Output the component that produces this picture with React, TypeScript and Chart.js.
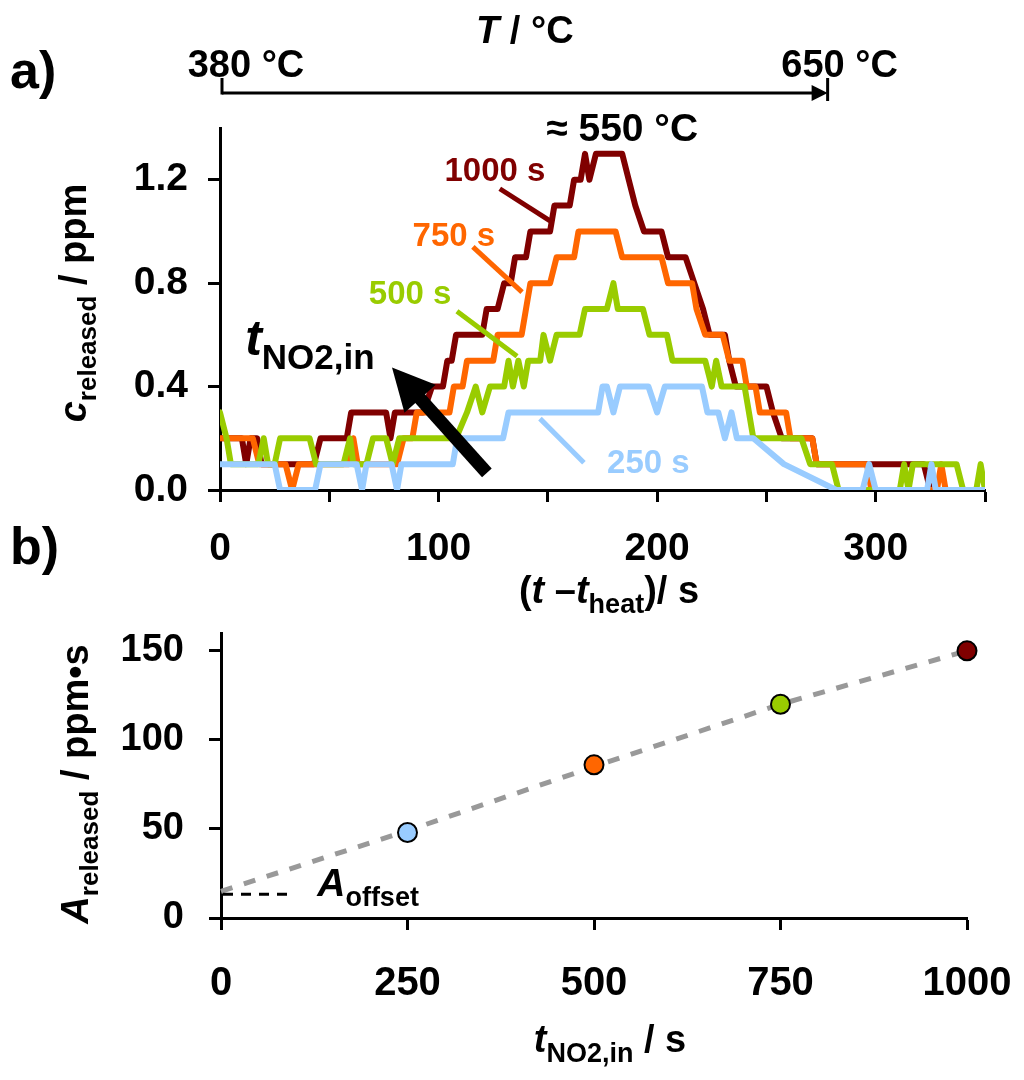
import { useEffect, useRef } from "react";
import { Chart, registerables } from "chart.js";

Chart.register(...registerables);

const FONT = "'Liberation Sans', Arial, sans-serif";

// ---- panel a: released concentration after heating start ----
const redT = [0, 10, 12, 14, 17, 19, 43, 46, 58, 60, 76, 78, 80, 93, 97, 102, 104, 106, 108, 120, 122, 127, 130, 133, 135, 140, 142, 151, 153, 160, 162, 165, 167, 169, 172, 184, 187, 190, 194, 202, 205, 213, 217, 221, 224, 231, 233, 236, 250, 253, 257, 271, 273, 322, 325, 350];
const redC = [0.2, 0.2, 0.1, 0.2, 0.2, 0.1, 0.1, 0.2, 0.2, 0.3, 0.3, 0.2, 0.3, 0.3, 0.4, 0.4, 0.5, 0.5, 0.6, 0.6, 0.7, 0.7, 0.8, 0.8, 0.9, 0.9, 1.0, 1.0, 1.1, 1.1, 1.2, 1.2, 1.3, 1.2, 1.3, 1.3, 1.2, 1.1, 1.0, 1.0, 0.9, 0.9, 0.8, 0.7, 0.6, 0.6, 0.5, 0.4, 0.4, 0.3, 0.2, 0.2, 0.1, 0.1, 0, 0];

const orangeT = [0, 15, 18, 30, 33, 36, 59, 61, 63, 81, 84, 88, 90, 105, 107, 111, 113, 125, 127, 138, 140, 142, 151, 154, 162, 164, 181, 184, 202, 205, 216, 218, 222, 230, 233, 239, 241, 245, 247, 259, 261, 271, 273, 296, 298, 328, 330, 332, 350];
const orangeC = [0.2, 0.2, 0.1, 0.1, 0, 0.1, 0.1, 0.2, 0.1, 0.1, 0.2, 0.2, 0.3, 0.3, 0.4, 0.4, 0.5, 0.5, 0.6, 0.6, 0.7, 0.8, 0.8, 0.9, 0.9, 1.0, 1.0, 0.9, 0.9, 0.8, 0.8, 0.7, 0.6, 0.6, 0.5, 0.5, 0.4, 0.4, 0.3, 0.3, 0.2, 0.2, 0.1, 0.1, 0, 0, 0.1, 0, 0];

const greenT = [0, 3, 5, 17.5, 20, 22, 25, 27.5, 41, 44, 56.5, 59.5, 61, 67, 70, 76, 79, 82, 108, 113, 117, 120, 123.5, 130, 132, 134, 136.5, 139, 141, 146.5, 148, 151, 154, 164.5, 167, 177, 180, 182, 193.5, 196.5, 204.5, 207, 222, 225, 227, 229.5, 240, 244, 266, 270, 280, 283, 311, 313, 315, 317, 337, 340, 346, 348, 350];
const greenC = [0.3, 0.2, 0.1, 0.1, 0.2, 0.1, 0.1, 0.2, 0.2, 0.1, 0.1, 0.2, 0.1, 0.1, 0.2, 0.2, 0.1, 0.2, 0.2, 0.3, 0.4, 0.3, 0.4, 0.4, 0.5, 0.4, 0.5, 0.4, 0.5, 0.5, 0.6, 0.5, 0.6, 0.6, 0.7, 0.7, 0.8, 0.7, 0.7, 0.6, 0.6, 0.5, 0.5, 0.4, 0.5, 0.4, 0.4, 0.2, 0.2, 0.1, 0.1, 0, 0, 0.1, 0, 0.1, 0.1, 0, 0, 0.1, 0];

const blueT = [0, 25, 27.5, 43.5, 46, 62.5, 65, 67, 78.5, 81, 83, 106.5, 108.5, 129.5, 132, 173, 175, 177, 180, 183, 196, 200, 203.5, 220.5, 223, 228, 231, 234, 236.5, 244, 258, 282, 294, 297, 300, 323.5, 325.5, 327.5, 350];
const blueC = [0.1, 0.1, 0, 0, 0.1, 0.1, 0, 0.1, 0.1, 0, 0.1, 0.1, 0.2, 0.2, 0.3, 0.3, 0.4, 0.4, 0.3, 0.4, 0.4, 0.3, 0.4, 0.4, 0.3, 0.3, 0.2, 0.3, 0.2, 0.2, 0.1, 0, 0, 0.1, 0, 0, 0.1, 0, 0];

const seriesLabels = ["1000 s", "750 s", "500 s", "250 s"];
const seriesColors = ["#800000", "#ff6600", "#99cc00", "#99ccff"];
const tempLabels = ["380 °C", "650 °C"];
const tempEnds = [0, 278]; // s, start/end of the heating ramp
const peakLabel = "≈ 550 °C";

// ---- panel b: released amount vs. NO2 exposure time ----
const exposureT = [250, 500, 750, 1000];
const releasedA = [48, 86, 120, 150];
const pointColors = ["#99ccff", "#ff6600", "#99cc00", "#800000"];
const fitT = [0, 250, 500, 750, 1000];
const fitA = [15, 49, 85, 120, 150];
const offsetA = 15;

type Part = { s: string; size: number; italic?: boolean; sub?: number };

const fontOf = (p: Part) => `${p.italic ? "italic " : ""}bold ${p.size}px ${FONT}`;

function drawRich(ctx: CanvasRenderingContext2D, x: number, y: number, parts: Part[], align: "left" | "center", color = "#000") {
  let w = 0;
  for (const p of parts) {
    ctx.font = fontOf(p);
    w += ctx.measureText(p.s).width;
  }
  let cx = align === "center" ? x - w / 2 : x;
  ctx.textAlign = "left";
  ctx.textBaseline = "alphabetic";
  ctx.fillStyle = color;
  for (const p of parts) {
    ctx.font = fontOf(p);
    ctx.fillText(p.s, cx, y + (p.sub || 0));
    cx += ctx.measureText(p.s).width;
  }
}

function drawRotated(ctx: CanvasRenderingContext2D, x: number, y: number, parts: Part[]) {
  ctx.save();
  ctx.translate(x, y);
  ctx.rotate(-Math.PI / 2);
  drawRich(ctx, 0, 0, parts, "center");
  ctx.restore();
}

function seg(ctx: CanvasRenderingContext2D, x1: number, y1: number, x2: number, y2: number) {
  ctx.beginPath();
  ctx.moveTo(x1, y1);
  ctx.lineTo(x2, y2);
  ctx.stroke();
}

const axisStyle = (size: number, pad: number) => ({
  border: { color: "#000", width: 3 },
  grid: { drawOnChartArea: false, drawTicks: true, tickLength: 12, tickWidth: 3, tickColor: "#000" },
  ticks: { color: "#000", padding: pad, font: { family: FONT, size, weight: "bold" as const } },
});

// keep the plot area where the reference has it, no matter how wide the end labels are
const noEdgePadding = (s: any) => {
  s.paddingLeft = 0;
  s.paddingRight = 0;
};

const annotA = {
  id: "annotA",
  afterDraw(chart: any) {
    const { ctx, chartArea } = chart;
    const X = (v: number) => chart.scales.x.getPixelForValue(v);
    const Y = (v: number) => chart.scales.y.getPixelForValue(v);
    ctx.save();
    ctx.strokeStyle = "#000";
    ctx.fillStyle = "#000";

    drawRich(ctx, 10, 88, [{ s: "a)", size: 52 }], "left");

    // temperature ramp arrow on top
    const ty = chartArea.top - 35;
    const x0 = X(tempEnds[0]) + 2;
    const x1 = X(tempEnds[1]);
    ctx.lineWidth = 3;
    seg(ctx, x0, ty, x1 - 12, ty);
    seg(ctx, x0, ty - 15, x0, ty + 1.5);
    seg(ctx, x1, ty - 15, x1, ty + 8);
    ctx.beginPath();
    ctx.moveTo(x1, ty);
    ctx.lineTo(x1 - 16, ty - 8);
    ctx.lineTo(x1 - 16, ty + 8);
    ctx.closePath();
    ctx.fill();
    drawRich(ctx, (x0 + x1) / 2, ty - 50, [{ s: "T", size: 38, italic: true }, { s: " / °C", size: 38 }], "center");
    drawRich(ctx, x0 + 24, ty - 16, [{ s: tempLabels[0], size: 38 }], "center");
    drawRich(ctx, x1 + 12, ty - 16, [{ s: tempLabels[1], size: 38 }], "center");
    drawRich(ctx, X(184), Y(1.35), [{ s: peakLabel, size: 39 }], "center");

    // series labels with leader lines
    const lab = [
      { t: 125.8, c: 1.196, l: [128, 1.165, 151, 1.041] },
      { t: 107, c: 0.944, l: [115.7, 0.94, 138.2, 0.765] },
      { t: 87, c: 0.718, l: [108.4, 0.691, 135.9, 0.517] },
      { t: 196, c: 0.066, l: [146.4, 0.276, 166.5, 0.105] },
    ];
    lab.forEach((o, i) => {
      drawRich(ctx, X(o.t), Y(o.c), [{ s: seriesLabels[i], size: 33 }], "center", seriesColors[i]);
      ctx.strokeStyle = seriesColors[i];
      ctx.lineWidth = 5;
      seg(ctx, X(o.l[0]), Y(o.l[1]), X(o.l[2]), Y(o.l[3]));
    });

    // big arrow: longer exposure
    ctx.strokeStyle = "#000";
    ctx.fillStyle = "#000";
    const ax = X(122.1), ay = Y(0.066), bx = X(78.7), by = Y(0.474);
    const len = Math.hypot(bx - ax, by - ay);
    const ux = (bx - ax) / len, uy = (by - ay) / len;
    const hl = 42, hw = 21;
    ctx.lineWidth = 13;
    seg(ctx, ax, ay, bx - ux * (hl - 4), by - uy * (hl - 4));
    ctx.beginPath();
    ctx.moveTo(bx, by);
    ctx.lineTo(bx - ux * hl - uy * hw, by - uy * hl + ux * hw);
    ctx.lineTo(bx - ux * hl + uy * hw, by - uy * hl - ux * hw);
    ctx.closePath();
    ctx.fill();
    drawRich(ctx, X(11.5), Y(0.524), [{ s: "t", size: 50, italic: true }, { s: "NO2,in", size: 35, sub: 14 }], "left");

    // axis titles
    drawRotated(ctx, 86, 303, [{ s: "c", size: 38, italic: true }, { s: "released", size: 26, sub: 10 }, { s: " / ppm", size: 38 }]);
    drawRich(ctx, 609, 603, [
      { s: "(", size: 38 },
      { s: "t", size: 38, italic: true },
      { s: " –", size: 38 },
      { s: "t", size: 38, italic: true },
      { s: "heat", size: 27, sub: 10 },
      { s: ")/ s", size: 38 },
    ], "center");
    ctx.restore();
  },
};

const annotB = {
  id: "annotB",
  afterDraw(chart: any) {
    const { ctx } = chart;
    const X = (v: number) => chart.scales.x.getPixelForValue(v);
    const Y = (v: number) => chart.scales.y.getPixelForValue(v);
    ctx.save();
    drawRich(ctx, 10, 64, [{ s: "b)", size: 52 }], "left");

    ctx.strokeStyle = "#000";
    ctx.lineWidth = 3;
    ctx.setLineDash([10, 8]);
    seg(ctx, X(0) + 2, Y(offsetA) + 3, X(90), Y(offsetA) + 3);
    ctx.setLineDash([]);
    drawRich(ctx, X(129), Y(offsetA) + 5, [{ s: "A", size: 39, italic: true }, { s: "offset", size: 27, sub: 10 }], "left");

    drawRotated(ctx, 88, 284, [{ s: "A", size: 38, italic: true }, { s: "released", size: 26, sub: 10 }, { s: " / ppm•s", size: 38 }]);
    drawRich(ctx, 610, 552, [{ s: "t", size: 38, italic: true }, { s: "NO2,in", size: 27, sub: 10 }, { s: " / s", size: 38 }], "center");
    ctx.restore();
  },
};

const toXY = (xs: number[], ys: number[]) => xs.map((x, i) => ({ x, y: ys[i] }));

export default function App() {
  const refA = useRef<HTMLCanvasElement | null>(null);
  const refB = useRef<HTMLCanvasElement | null>(null);

  useEffect(() => {
    if (!refA.current || !refB.current) return;

    const line = (label: string, data: any, color: string, order: number) => ({
      label,
      data,
      borderColor: color,
      borderWidth: 6,
      pointRadius: 0,
      borderJoinStyle: "round" as const,
      borderCapStyle: "round" as const,
      order,
    });

    const chartA = new Chart(refA.current, {
      type: "line",
      data: {
        datasets: [
          line(seriesLabels[0], toXY(redT, redC), seriesColors[0], 3),
          line(seriesLabels[1], toXY(orangeT, orangeC), seriesColors[1], 2),
          line(seriesLabels[2], toXY(greenT, greenC), seriesColors[2], 1),
          line(seriesLabels[3], toXY(blueT, blueC), seriesColors[3], 0),
        ],
      },
      options: {
        responsive: false,
        animation: false,
        layout: { padding: { top: 128, right: 39, left: 0, bottom: 0 } },
        plugins: { legend: { display: false }, tooltip: { enabled: false } },
        scales: {
          x: {
            type: "linear",
            min: 0,
            max: 350,
            ...axisStyle(39, 24),
            ticks: {
              ...axisStyle(39, 24).ticks,
              stepSize: 50,
              maxRotation: 0,
              autoSkip: false,
              callback: (v: any) => (Number(v) % 100 === 0 ? String(v) : ""),
            },
            afterFit: (s: any) => {
              s.height = 130;
              noEdgePadding(s);
            },
          },
          y: {
            min: 0,
            max: 1.4,
            ...axisStyle(39, 20),
            ticks: {
              ...axisStyle(39, 20).ticks,
              stepSize: 0.4,
              includeBounds: false,
              callback: (v: any) => Number(v).toFixed(1),
            },
            afterFit: (s: any) => { s.width = 220; },
          },
        },
      },
      plugins: [annotA],
    } as any);

    const chartB = new Chart(refB.current, {
      type: "line",
      data: {
        datasets: [
          {
            label: "A released",
            data: toXY(exposureT, releasedA),
            showLine: false,
            pointRadius: 9.5,
            pointBackgroundColor: pointColors,
            pointBorderColor: "#000",
            pointBorderWidth: 2,
            clip: false,
            order: 0,
          },
          {
            label: "fit",
            data: toXY(fitT, fitA),
            borderColor: "#999999",
            borderWidth: 5,
            borderDash: [12, 12],
            pointRadius: 0,
            clip: false,
            order: 1,
          },
        ],
      },
      options: {
        responsive: false,
        animation: false,
        layout: { padding: { top: 133, right: 57, left: 0, bottom: 0 } },
        plugins: { legend: { display: false }, tooltip: { enabled: false } },
        scales: {
          x: {
            type: "linear",
            min: 0,
            max: 1000,
            ...axisStyle(40, 30),
            ticks: {
              ...axisStyle(40, 30).ticks,
              stepSize: 250,
              maxRotation: 0,
              autoSkip: false,
              callback: (v: any) => String(v),
            },
            afterFit: (s: any) => {
              s.height = 162;
              noEdgePadding(s);
            },
          },
          y: {
            min: 0,
            max: 160,
            ...axisStyle(38, 25),
            ticks: { ...axisStyle(38, 25).ticks, stepSize: 50, includeBounds: false },
            afterFit: (s: any) => { s.width = 221; },
          },
        },
      },
      plugins: [annotB],
    } as any);

    return () => {
      chartA.destroy();
      chartB.destroy();
    };
  }, []);

  return (
    <div style={{ position: "fixed", left: 0, top: 0, width: 1024, height: 1080, background: "#fff" }}>
      <canvas ref={refA} width={1024} height={620} style={{ position: "absolute", left: 0, top: 0 }} />
      <canvas ref={refB} width={1024} height={580} style={{ position: "absolute", left: 0, top: 500 }} />
    </div>
  );
}
